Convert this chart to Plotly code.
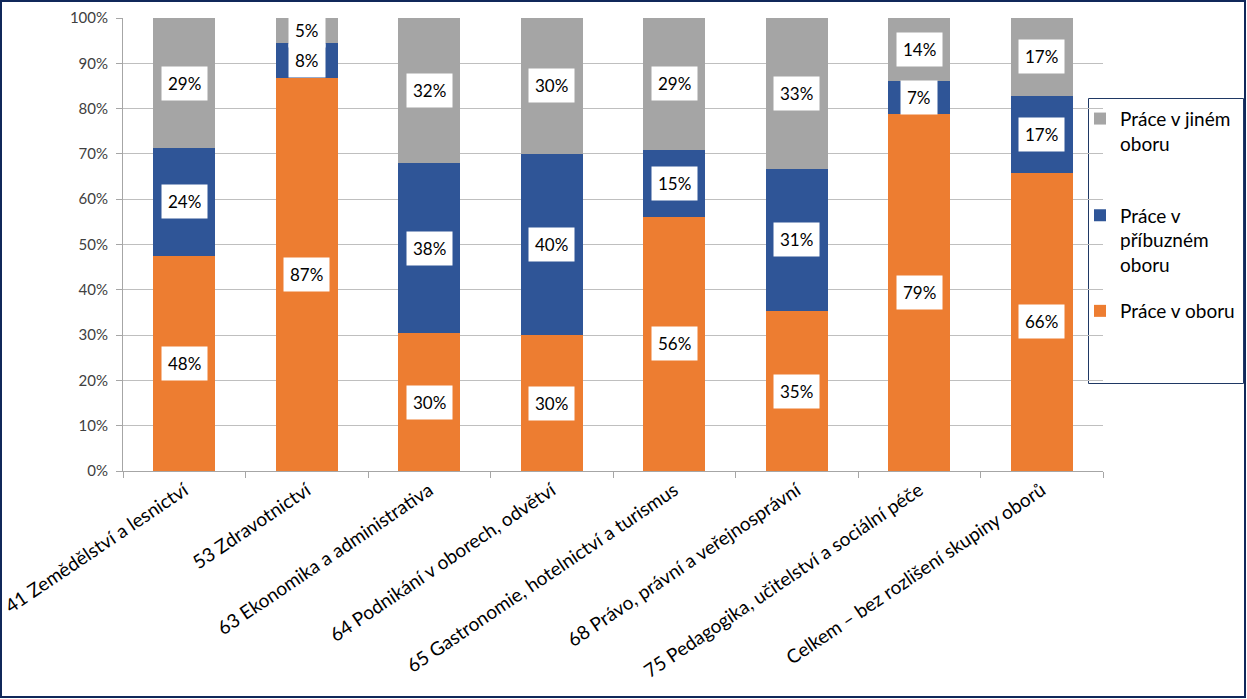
import plotly.graph_objects as go

categories = [
    "41 Zemědělství a lesnictví",
    "53 Zdravotnictví",
    "63 Ekonomika a administrativa",
    "64 Podnikání v oborech, odvětví",
    "65 Gastronomie, hotelnictví a turismus",
    "68 Právo, právní a veřejnosprávní",
    "75 Pedagogika, učitelství a sociální péče",
    "Celkem – bez rozlišení skupiny oborů",
]
prace_v_oboru = [47.5, 86.8, 30.4, 30.0, 56.1, 35.3, 78.8, 65.8]
prace_v_pribuznem = [23.8, 7.7, 37.6, 40.0, 14.8, 31.4, 7.3, 17.0]
prace_v_jinem = [28.7, 5.4, 32.0, 30.0, 29.1, 33.3, 13.9, 17.2]

series_names = ["Práce v oboru", " <br> <br>Práce v<br>příbuzném<br>oboru", " <br>Práce v jiném<br>oboru"]
series_vals = [prace_v_oboru, prace_v_pribuznem, prace_v_jinem]
colors = ["#ED7D31", "#2F5597", "#A5A5A5"]
legend_ids = ["legend", "legend2", "legend3"]

FONT = "Lato, 'Open Sans', sans-serif"

fig = go.Figure()
for name, vals, col, lg in zip(series_names, series_vals, colors, legend_ids):
    fig.add_trace(go.Bar(
        x=categories, y=vals, name=name, marker_color=col,
        marker_line_width=0, legend=lg, showlegend=True,
    ))

annotations = []
for ci, cat in enumerate(categories):
    base = 0
    for vals in series_vals:
        v = vals[ci]
        annotations.append(dict(
            x=cat, y=base + v / 2, xref="x", yref="y",
            text=f"{round(v):d}%", showarrow=False,
            font=dict(family=FONT, size=17, color="#000000"),
            bgcolor="#FFFFFF", borderpad=6,
        ))
        base += v

PW, PH, L, B = 980, 453, 123, 471


def px_x(p):
    return (p - L) / PW


def px_y(p):
    return (B - p) / PH


leg_common = dict(
    xanchor="left", yanchor="top", x=px_x(1080),
    bgcolor="rgba(0,0,0,0)", borderwidth=0,
    font=dict(family=FONT, size=19, color="#000000"),
    itemwidth=30, itemclick=False, visible=True,
)

fig.update_layout(
    width=1247, height=699,
    barmode="stack", bargap=0.49, showlegend=True,
    paper_bgcolor="#FFFFFF", plot_bgcolor="#FFFFFF",
    margin=dict(l=123, r=144, t=18, b=228, autoexpand=False),
    font=dict(family=FONT, size=15, color="#404040"),
    annotations=annotations,
    legend=dict(y=px_y(292), **leg_common),
    legend2=dict(y=px_y(147), **leg_common),
    legend3=dict(y=px_y(75), **leg_common),
    shapes=[
        dict(type="rect", xref="paper", yref="paper",
             x0=px_x(1088.5), x1=px_x(1243.5), y0=px_y(383.5), y1=px_y(98.5),
             line=dict(color="#1F3864", width=1), fillcolor="rgba(0,0,0,0)", layer="below"),
        dict(type="rect", xref="paper", yref="paper",
             x0=px_x(1), x1=px_x(1245), y0=px_y(697), y1=px_y(1),
             line=dict(color="#10285A", width=2), layer="above"),
    ],
)
fig.update_yaxes(
    range=[0, 100], dtick=10, ticksuffix="%",
    showgrid=True, gridcolor="#BFBFBF", gridwidth=1,
    showline=True, linecolor="#A6A6A6", ticks="outside", ticklen=6, tickcolor="#A6A6A6",
    tickfont=dict(family=FONT, size=15, color="#404040"), zeroline=False,
    ticklabelstandoff=5,
)
fig.update_xaxes(
    tickangle=-34, showline=True, linecolor="#A6A6A6",
    ticks="outside", ticklen=6, tickcolor="#A6A6A6", tickson="boundaries",
    tickfont=dict(family=FONT, size=19, color="#000000"),
)

fig.write_html(
    "out.html",
    config={"displayModeBar": False},
    post_script="document.body.style.margin='0';document.body.style.padding='0';",
)
